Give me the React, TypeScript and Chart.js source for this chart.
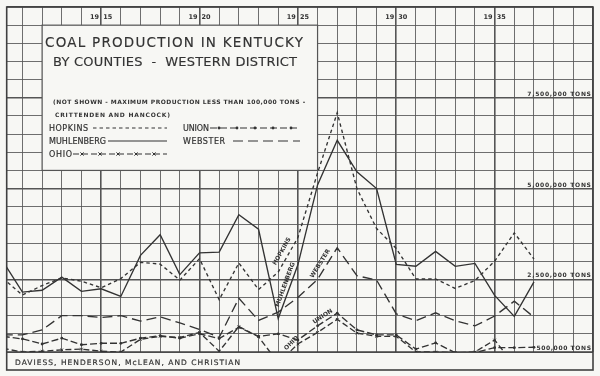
import { useEffect, useRef } from 'react';
import { Chart, registerables } from 'chart.js';

Chart.register(...registerables);

// ---------- data (tons) ----------
const YEARS = [1910, 1911, 1912, 1913, 1914, 1915, 1916, 1917, 1918, 1919, 1920, 1921, 1922, 1923, 1924, 1925, 1926, 1927, 1928, 1929, 1930, 1931, 1932, 1933, 1934, 1935, 1936, 1937];

const HOPKINS = [2530000, 2070000, 2330000, 2540000, 2450000, 2270000, 2520000, 2970000, 2920000, 2480000, 3070000, 1940000, 2950000, 2220000, 2700000, 3650000, 5430000, 7090000, 5000000, 3900000, 3350000, 2510000, 2510000, 2250000, 2470000, 3000000, 3780000, 3060000];
const MUHLENBERG = [3000000, 2150000, 2200000, 2560000, 2170000, 2240000, 2030000, 3160000, 3730000, 2630000, 3230000, 3250000, 4280000, 3880000, 1420000, 2900000, 5100000, 6330000, 5460000, 5000000, 2910000, 2860000, 3270000, 2860000, 2940000, 2060000, 1480000, 2430000];
const WEBSTER = [970000, 970000, 1110000, 1500000, 1500000, 1450000, 1500000, 1350000, 1470000, 1300000, 1120000, 900000, 1980000, 1370000, 1600000, 2000000, 2500000, 3370000, 2600000, 2480000, 1550000, 1360000, 1580000, 1360000, 1220000, 1490000, 1900000, 1460000];
const UNION = [930000, 860000, 720000, 880000, 700000, 740000, 740000, 880000, 950000, 880000, 1000000, 870000, 1180000, 930000, 1000000, 830000, 1220000, 1570000, 1110000, 970000, 970000, 580000, 750000, 480000, 480000, 620000, 620000, 630000];
const OHIO = [600000, 500000, 520000, 560000, 580000, 520000, 500000, 850000, 930000, 900000, 1040000, 520000, 1200000, 920000, 200000, 720000, 1040000, 1400000, 1020000, 930000, 930000, 500000, 500000, 480000, 500000, 830000, 150000, null];

const Y_LABEL_VALUES = [7500000, 5000000, 2500000, 500000];
const YEAR_MARKS = [1915, 1920, 1925, 1930, 1935];

const TITLE_1 = 'COAL PRODUCTION IN KENTUCKY';
const TITLE_2 = 'BY COUNTIES  -  WESTERN DISTRICT';
const NOTE_1 = '(NOT SHOWN - MAXIMUM PRODUCTION LESS THAN 100,000 TONS -';
const NOTE_2 = 'CRITTENDEN AND HANCOCK)';
const FOOTER = 'DAVIESS, HENDERSON, McLEAN, AND CHRISTIAN';

// ---------- styles ----------
const PAPER = '#f7f7f4';
const INK = '#333333';
const GRID = '#555555';
const FONT = "'DejaVu Sans', sans-serif";

const fmtTons = (v: number) => v.toLocaleString('en-US') + ' TONS';

function fitText(ctx: CanvasRenderingContext2D, text: string, x: number, y: number, width: number, font: string, bold = 0) {
  ctx.font = font;
  (ctx as any).letterSpacing = '0px';
  const w = ctx.measureText(text).width;
  const sp = text.length > 1 ? (width - w) / (text.length - 1) : 0;
  (ctx as any).letterSpacing = sp.toFixed(2) + 'px';
  ctx.textAlign = 'left';
  ctx.fillText(text, x, y);
  if (bold > 0) {
    ctx.save();
    ctx.strokeStyle = ctx.fillStyle as string;
    ctx.lineWidth = bold;
    ctx.strokeText(text, x, y);
    ctx.restore();
  }
  (ctx as any).letterSpacing = '0px';
}

function drawMarker(ctx: CanvasRenderingContext2D, kind: string, x: number, y: number) {
  ctx.save();
  ctx.setLineDash([]);
  ctx.fillStyle = INK;
  ctx.strokeStyle = INK;
  ctx.lineWidth = 1;
  if (kind === 'circle') {
    ctx.beginPath();
    ctx.arc(x, y, 1.4, 0, Math.PI * 2);
    ctx.fill();
  } else {
    const r = 1.6;
    ctx.beginPath();
    ctx.moveTo(x - r, y - r); ctx.lineTo(x + r, y + r);
    ctx.moveTo(x - r, y + r); ctx.lineTo(x + r, y - r);
    ctx.stroke();
  }
  ctx.restore();
}

function legendLine(ctx: CanvasRenderingContext2D, x1: number, x2: number, y: number, dash: number[], marker?: string) {
  ctx.save();
  ctx.strokeStyle = INK;
  ctx.lineWidth = 1.1;
  ctx.setLineDash(dash);
  ctx.beginPath();
  ctx.moveTo(x1, y);
  ctx.lineTo(x2, y);
  ctx.stroke();
  ctx.restore();
  if (marker) {
    for (let mx = x1 + 9; mx < x2 - 4; mx += 18) drawMarker(ctx, marker, mx, y);
  }
}

const SERIES_LABELS = [
  { text: 'HOPKINS', data: HOPKINS, i: 14, t: 0.5, off: 7 },
  { text: 'MUHLENBERG', data: MUHLENBERG, i: 14, t: 0.6, off: 5 },
  { text: 'WEBSTER', data: WEBSTER, i: 16, t: 0.4, off: 6 },
  { text: 'UNION', data: UNION, i: 16, t: 0.4, off: 5 },
  { text: 'OHIO', data: OHIO, i: 14, t: 0.85, off: 5 },
];

const deco = {
  id: 'deco',
  beforeDraw(chart: any) {
    const { ctx, width, height } = chart;
    ctx.save();
    ctx.fillStyle = PAPER;
    ctx.fillRect(0, 0, width, height);
    ctx.restore();
  },
  beforeDatasetsDraw(chart: any) {
    const { ctx, chartArea: ca, scales } = chart;
    const xs = scales.x;
    const ys = scales.y;
    ctx.save();

    // title box (covers the grid)
    const bx1 = xs.getPixelForValue(1912);
    const bx2 = xs.getPixelForValue(1926);
    const by1 = ys.getPixelForValue(9500000);
    const by2 = ys.getPixelForValue(5500000);
    ctx.fillStyle = PAPER;
    ctx.fillRect(bx1, by1, bx2 - bx1, by2 - by1);
    ctx.strokeStyle = GRID;
    ctx.lineWidth = 1.2;
    ctx.strokeRect(bx1, by1, bx2 - bx1, by2 - by1);

    // outer frame + footer band
    const bottomBand = 370;
    ctx.lineWidth = 1.6;
    ctx.strokeStyle = '#404040';
    ctx.strokeRect(ca.left, ca.top, ca.right - ca.left, bottomBand - ca.top);
    ctx.beginPath();
    ctx.moveTo(ca.left, ca.bottom);
    ctx.lineTo(ca.right, ca.bottom);
    ctx.stroke();

    ctx.fillStyle = INK;
    ctx.textBaseline = 'alphabetic';

    // titles
    fitText(ctx, TITLE_1, 45, 47, 258, `13.5px ${FONT}`, 0.15);
    fitText(ctx, TITLE_2, 53, 65.5, 244, `13px ${FONT}`, 0.15);
    fitText(ctx, NOTE_1, 53, 104, 252, `bold 6px ${FONT}`);
    fitText(ctx, NOTE_2, 55, 117, 115, `bold 6px ${FONT}`);

    // legend
    const lf = `8px ${FONT}`;
    fitText(ctx, 'HOPKINS', 49, 131, 39, lf, 0.2);
    fitText(ctx, 'MUHLENBERG', 49, 144, 57, lf, 0.2);
    fitText(ctx, 'OHIO', 49, 157, 23, lf, 0.2);
    fitText(ctx, 'UNION', 183, 131, 26, lf, 0.2);
    fitText(ctx, 'WEBSTER', 183, 144, 42, lf, 0.2);
    legendLine(ctx, 93, 167, 128, [3.5, 3]);
    legendLine(ctx, 108, 167, 141, []);
    legendLine(ctx, 73, 167, 154, [6, 3], 'cross');
    legendLine(ctx, 210, 300, 128, [7, 3], 'circle');
    legendLine(ctx, 233, 300, 141, [10, 5]);

    // year labels in the top row
    const yy = (ca.top + ys.getPixelForValue(9500000)) / 2 + 2.5;
    ctx.font = `bold 6.5px ${FONT}`;
    YEAR_MARKS.forEach((yr) => {
      const px = xs.getPixelForValue(yr);
      const s = String(yr);
      ctx.textAlign = 'right';
      ctx.fillText(s.slice(0, 2), px - 2, yy);
      ctx.textAlign = 'left';
      ctx.fillText(s.slice(2), px + 2, yy);
    });

    // right-hand tonnage labels
    Y_LABEL_VALUES.forEach((v) => {
      const s = fmtTons(v);
      const w = s.length * 4.55;
      fitText(ctx, s, ca.right - 2 - w, ys.getPixelForValue(v) - 2, w, `bold 6px ${FONT}`);
    });

    // footer
    fitText(ctx, FOOTER, 15, 365, 225, `7.5px ${FONT}`, 0.2);
    ctx.restore();
  },
  afterDatasetsDraw(chart: any) {
    const { ctx, scales } = chart;
    const xs = scales.x;
    const ys = scales.y;
    ctx.save();
    ctx.fillStyle = INK;
    ctx.font = `bold 6px ${FONT}`;
    ctx.textAlign = 'center';
    ctx.textBaseline = 'middle';
    SERIES_LABELS.forEach((l) => {
      const x1 = xs.getPixelForValue(YEARS[l.i]);
      const y1 = ys.getPixelForValue(l.data[l.i] as number);
      const x2 = xs.getPixelForValue(YEARS[l.i + 1]);
      const y2 = ys.getPixelForValue(l.data[l.i + 1] as number);
      const a = Math.atan2(y2 - y1, x2 - x1);
      const px = x1 + (x2 - x1) * l.t + Math.sin(a) * l.off;
      const py = y1 + (y2 - y1) * l.t - Math.cos(a) * l.off;
      ctx.save();
      ctx.translate(px, py);
      ctx.rotate(a);
      ctx.fillText(l.text, 0, 0);
      ctx.restore();
    });
    ctx.restore();
  },
};

function series(label: string, data: (number | null)[], dash: number[], extra: any = {}) {
  return {
    label,
    data: YEARS.map((yr, i) => ({ x: yr, y: data[i] })),
    borderColor: INK,
    backgroundColor: INK,
    borderWidth: 1.35,
    borderDash: dash,
    pointRadius: 0,
    tension: 0,
    spanGaps: false,
    ...extra,
  };
}

export default function App() {
  const ref = useRef<HTMLCanvasElement>(null);
  useEffect(() => {
    const canvas = ref.current;
    if (!canvas) return;
    const chart = new Chart(canvas, {
      type: 'line',
      data: {
        datasets: [
          series('Hopkins', HOPKINS, [3.5, 3]),
          series('Muhlenberg', MUHLENBERG, []),
          series('Webster', WEBSTER, [10, 5]),
          series('Union', UNION, [7, 3], { pointRadius: 1.4, pointStyle: 'circle', pointBorderWidth: 0 }),
          series('Ohio', OHIO, [6, 3], { pointRadius: 1.8, pointStyle: 'crossRot', pointBorderWidth: 1 }),
        ] as any,
      },
      options: {
        responsive: false,
        animation: false,
        layout: { padding: { left: 6.7, right: 7, top: 7, bottom: 24 } },
        plugins: { legend: { display: false }, tooltip: { enabled: false }, title: { display: false } },
        scales: {
          x: {
            type: 'linear',
            min: 1910.2,
            max: 1940,
            ticks: { display: false, stepSize: 1, includeBounds: false, autoSkip: false },
            grid: {
              drawTicks: false,
              color: GRID,
              lineWidth: (c: any) => (c.tick && Math.round(c.tick.value) % 5 === 0 ? 1.6 : 0.85),
            },
            border: { display: false },
          },
          y: {
            type: 'linear',
            min: 500000,
            max: 10000000,
            ticks: { display: false, stepSize: 500000 },
            grid: {
              drawTicks: false,
              color: GRID,
              lineWidth: (c: any) => (c.tick && c.tick.value % 2500000 === 0 ? 1.6 : 0.85),
            },
            border: { display: false },
          },
        },
      } as any,
      plugins: [deco],
    });
    return () => chart.destroy();
  }, []);
  return (
    <div style={{ position: 'fixed', left: 0, top: 0, width: 600, height: 376, background: PAPER }}>
      <canvas ref={ref} width={600} height={376} style={{ display: 'block', width: 600, height: 376 }} />
    </div>
  );
}
